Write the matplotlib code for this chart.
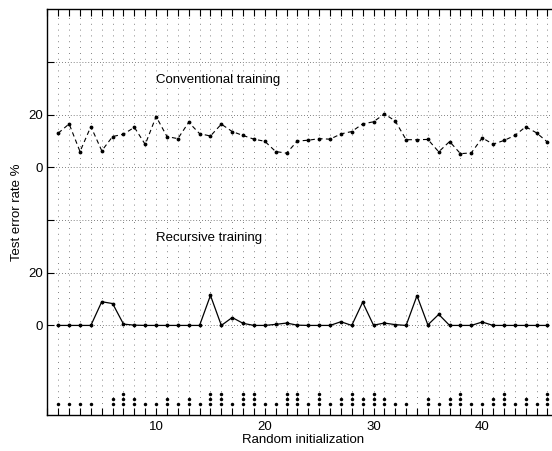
import numpy as np
import matplotlib.pyplot as plt
from matplotlib.ticker import MultipleLocator, FixedLocator

plt.rcParams['font.family'] = ['Liberation Sans', 'DejaVu Sans']

runs = np.arange(1, 47)

# test error (%) per random initialization
conventional = [13.0, 16.5, 6.0, 15.5, 6.3, 11.7, 12.6, 15.2, 8.7, 19.3,
                11.7, 10.9, 17.1, 12.8, 11.9, 16.4, 13.6, 12.1, 10.7, 9.9,
                6.0, 5.4, 10.0, 10.3, 10.9, 10.7, 12.7, 13.6, 16.5, 17.3,
                20.3, 17.6, 10.5, 10.5, 10.6, 5.9, 9.8, 5.2, 5.5, 11.2,
                8.8, 10.2, 12.1, 15.4, 13.1, 9.6]
recursive = [0, 0, 0, 0, 9.0, 8.3, 0.5, 0.1, 0, 0,
             0, 0, 0, 0, 11.4, 0, 3.0, 0.8, 0, 0,
             0.4, 0.9, 0.1, 0, 0, 0, 1.4, 0, 8.8, 0.1,
             0.9, 0.3, 0, 11.3, 0.2, 4.2, 0, 0, 0, 1.3,
             0, 0, 0, 0, 0, 0]
# number of stacked dots under each run
counts = [1, 1, 1, 1, 0, 2, 3, 2, 1, 1, 2, 1, 2, 1, 3, 3, 1, 3, 3, 1,
          1, 3, 3, 1, 3, 1, 2, 3, 2, 3, 2, 1, 1, 0, 2, 1, 2, 3, 1, 1,
          2, 3, 1, 2, 1, 3]

offset = 60  # conventional curve is shifted up
ytick_pos = [0, 20, 40, 60, 80, 100]
ytick_lab = ['0', '20', '', '0', '20', '']

fig = plt.figure(figsize=(5.52, 4.51), dpi=100)
ax = fig.add_axes([47.4 / 552, 36 / 451, 510.9 / 552, 405.7 / 451])

ax.plot(runs, np.array(conventional) + offset, color='k', lw=0.8,
        linestyle=(0, (4, 3)), marker='.', markersize=3.5)
ax.plot(runs, recursive, color='k', lw=0.9, marker='.', markersize=3.5)

dx, dy = [], []
for r, c in zip(runs, counts):
    for k in range(c):
        dx.append(r)
        dy.append(-30 + 2 * k)
ax.plot(dx, dy, 'o', color='k', markersize=2.5, markeredgewidth=0)

ax.text(10, 93, 'Conventional training', fontsize=9.5, va='center', ha='left')
ax.text(10, 33, 'Recursive training', fontsize=9.5, va='center', ha='left')

ax.set_xlim(0, 47)
ax.set_ylim(-34, 120)
ax.xaxis.set_major_locator(FixedLocator([10, 20, 30, 40]))
ax.xaxis.set_minor_locator(MultipleLocator(1))
ax.yaxis.set_major_locator(FixedLocator(ytick_pos))
ax.set_yticklabels(ytick_lab)

ax.tick_params(which='both', direction='in', top=True, right=False,
               labelsize=9.5, width=0.8)
ax.tick_params(axis='x', which='both', length=5, pad=4)
ax.tick_params(axis='y', which='major', length=5, pad=3)

ax.grid(axis='x', which='both', color='0.35', lw=0.6, linestyle=(0, (1, 6)))
ax.grid(axis='y', which='major', color='0.35', lw=0.6, linestyle=(0, (1, 2.5)))

for s in ['left', 'bottom', 'top']:
    ax.spines[s].set_linewidth(1.0)
ax.spines['right'].set_visible(False)

ax.set_xlabel('Random initialization', fontsize=9.5, labelpad=1)
ax.set_ylabel('Test error rate %', fontsize=9.5, labelpad=4)

fig.savefig('out.png', dpi=100)
